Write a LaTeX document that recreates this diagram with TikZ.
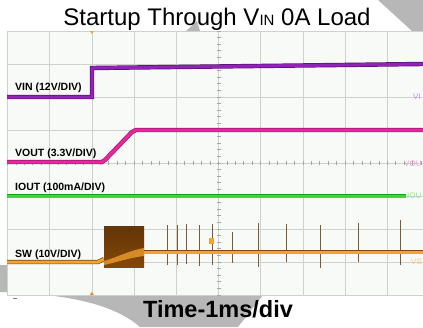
\documentclass[tikz,border=0pt]{standalone}
\usepackage{fontspec}
\setmainfont{Liberation Sans}

\definecolor{plotbg}{HTML}{F7FAF7}
\definecolor{gridgray}{HTML}{CDD2CD}
\definecolor{markgray}{HTML}{B7B7B7}
\definecolor{vincol}{HTML}{9222B8}
\definecolor{vinedge}{HTML}{5C0F78}
\definecolor{voutcol}{HTML}{E6289E}
\definecolor{voutedge}{HTML}{A3146E}
\definecolor{ioutcol}{HTML}{3AD83A}
\definecolor{ioutedge}{HTML}{1F9A1F}
\definecolor{swcol}{HTML}{F4A42C}
\definecolor{swedge}{HTML}{7A4810}
\definecolor{burstcol}{HTML}{84470A}

\tikzset{
  gridline/.style={gridgray, line width=0.7pt},
  tickline/.style={gridgray!80!black, line width=4pt},
  edgeline/.style={line width=4.4pt},
  traceline/.style={line width=3pt},
  tracelabel/.style={font=\fontsize{10.5}{12}\selectfont\bfseries, anchor=base west, inner sep=0pt},
  chanmark/.style={font=\fontsize{8}{9}\selectfont, anchor=west, inner sep=0pt},
  spike/.style={swedge!70!gray, line width=0.8pt},
}

\begin{document}
\begin{tikzpicture}[x=1pt,y=-1pt]
\useasboundingbox (0,0) rectangle (423,327);
\fill[white] (0,0) rectangle (423,327);
% watermark pieces
\fill[markgray] (378,0) -- (423,0) -- (423,31) -- (412,31) -- cycle;
\fill[markgray] (186,31) -- (200,31) -- (197,21) -- cycle;
\fill[markgray] (0,265) -- (0,292) .. controls (70,294) and (115,305) .. (140,327) -- (238,327) -- (263,295) -- (263,265) -- cycle;
% screen and grid
\fill[plotbg] (7,31) rectangle (430,295);
\draw[gridline] (7,31) rectangle (430,295);
\draw[gridline] (49.7,31) -- (49.7,295);
\draw[gridline] (91.9,31) -- (91.9,295);
\draw[gridline] (134.1,31) -- (134.1,295);
\draw[gridline] (176.3,31) -- (176.3,295);
\draw[gridline] (218.5,31) -- (218.5,295);
\draw[gridline] (260.7,31) -- (260.7,295);
\draw[gridline] (302.9,31) -- (302.9,295);
\draw[gridline] (345.1,31) -- (345.1,295);
\draw[gridline] (387.3,31) -- (387.3,295);
\draw[gridline] (7,64) -- (430,64);
\draw[gridline] (7,97) -- (430,97);
\draw[gridline] (7,130) -- (430,130);
\draw[gridline] (7,163) -- (430,163);
\draw[gridline] (7,196) -- (430,196);
\draw[gridline] (7,229) -- (430,229);
\draw[gridline] (7,262) -- (430,262);
% minor ticks on the centre axes
\draw[tickline, dash pattern=on 0.7pt off 7.74pt] (7.15,163) -- (430,163);
\draw[tickline, dash pattern=on 0.7pt off 5.9pt] (218.5,30.65) -- (218.5,295);
% trigger marks
\fill[swcol] (89.9,31) -- (93.9,31) -- (91.9,34) -- cycle;
\fill[swcol!80!red] (89.9,295) -- (93.9,295) -- (91.9,292) -- cycle;
\draw[gray, line width=0.6pt] (13,298) -- (17,298);
% VIN
\draw[edgeline, vinedge] (7,97) -- (92,97) -- (92,68) -- (423,64);
\draw[traceline, vincol] (7,97) -- (92,97) -- (92,68) -- (423,64);
% VOUT
\draw[edgeline, voutedge] (7,162) -- (102,162) -- (105,160) -- (132,132) -- (136,130) -- (423,130);
\draw[traceline, voutcol] (7,162) -- (102,162) -- (105,160) -- (132,132) -- (136,130) -- (423,130);
% IOUT
\draw[edgeline, ioutedge] (7,196) -- (406,196);
\draw[traceline, ioutcol] (7,196) -- (406,196);
% SW spikes
\draw[spike] (167,225) -- (167,265);
\draw[spike] (177,225) -- (177,265);
\draw[spike] (186,224) -- (186,264);
\draw[spike] (199,225) -- (199,266);
\draw[spike] (212,224) -- (212,265);
\draw[spike] (232,232) -- (232,263);
\draw[spike] (258,223) -- (258,267);
\draw[spike] (286,224) -- (286,262);
\draw[spike] (320,225) -- (320,268);
\draw[spike] (358,223) -- (358,262);
\draw[spike] (400,220) -- (400,265);
% SW
\draw[edgeline, swedge] (7,262) -- (98,262) -- (104,259);
\draw[traceline, swcol] (7,262) -- (98,262) -- (104,259);
\shade[top color=burstcol!75!black, bottom color=burstcol] (104,226) rectangle (144,267);
\fill[swcol, opacity=0.75] (104,261) .. controls (118,257) and (128,251) .. (144,248) -- (144,256) .. controls (128,258) and (118,262) .. (104,265) -- cycle;
\draw[edgeline, swedge] (144,252) -- (423,252);
\draw[traceline, swcol] (144,252) -- (423,252);
\fill[swcol] (208.5,238) rectangle (213.5,244);
% labels
\node[anchor=base, inner sep=0pt, font=\fontsize{24}{28}\selectfont] (title) at (217,25) {Startup Through V{\fontsize{15}{18}\selectfont IN} 0A Load};
\node[tracelabel] (vinlabel) at (15,90) {VIN (12V/DIV)};
\node[tracelabel] (voutlabel) at (15,156) {VOUT (3.3V/DIV)};
\node[tracelabel] (ioutlabel) at (15,190) {IOUT (100mA/DIV)};
\node[tracelabel] (swlabel) at (15,257) {SW (10V/DIV)};
\node[chanmark, vincol!50] (vinmark) at (413,97) {VI};
\node[chanmark, voutcol!50] (voutmark) at (404,164) {VOU};
\node[chanmark, ioutcol!60] (ioutmark) at (407,196) {IOU};
\node[chanmark, swcol!60] (swmark) at (411,262) {VS};
\node[anchor=base, inner sep=0pt, font=\fontsize{23.5}{28}\selectfont\bfseries] (timelabel) at (218,317) {Time-1ms/div};
\end{tikzpicture}
\end{document}
